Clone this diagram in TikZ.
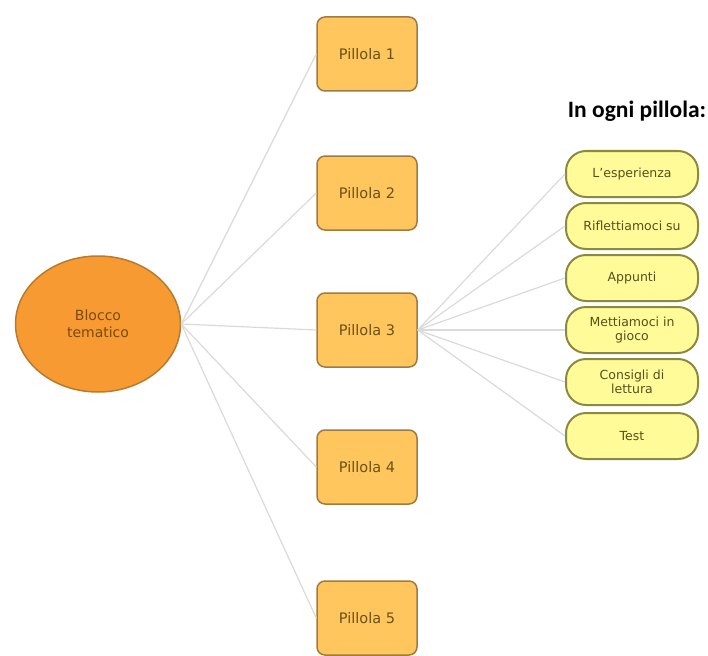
\documentclass[tikz,border=0pt]{standalone}
\usepackage{fontspec}
\setmainfont{DejaVu Sans}
\newfontfamily\headfont{Carlito}
\usetikzlibrary{shapes.geometric}
\definecolor{bloccofill}{HTML}{F79A32}
\definecolor{bloccoline}{HTML}{B87A2E}
\definecolor{bloccotext}{HTML}{7A4A14}
\definecolor{pillfill}{HTML}{FFC65E}
\definecolor{pillline}{HTML}{9C7C44}
\definecolor{pilltext}{HTML}{6A5218}
\definecolor{vocefill}{HTML}{FFFB99}
\definecolor{voceline}{HTML}{8C8A40}
\definecolor{vocetext}{HTML}{55501C}
\definecolor{ramoline}{HTML}{DADADA}

\begin{document}
\begin{tikzpicture}[x=1pt, y=-1pt,
    blocco/.style={ellipse, draw=bloccoline, line width=1.5pt, fill=bloccofill,
      minimum width=165pt, minimum height=136pt, inner sep=0pt, align=center,
      text=bloccotext, font=\fontsize{14}{17}\selectfont},
    pillola/.style={rectangle, rounded corners=8pt, draw=pillline, line width=1.5pt,
      fill=pillfill, minimum width=100pt, minimum height=74pt, inner sep=0pt,
      text=pilltext, font=\fontsize{14.5}{17}\selectfont},
    voce/.style={rectangle, rounded corners=20pt, draw=voceline, line width=2pt,
      fill=vocefill, minimum width=132pt, minimum height=46pt, inner sep=0pt,
      align=center, text=vocetext, font=\fontsize{12.5}{14}\selectfont},
    ramo/.style={draw=ramoline, line width=1.2pt}]
    \useasboundingbox (0,0) rectangle (708,655);

    \node[blocco] (blocco) at (98,324) {Blocco\\tematico};

    \node[pillola] (p1) at (367,54) {Pillola 1};
    \node[pillola] (p2) at (367,193) {Pillola 2};
    \node[pillola] (p3) at (367,330) {Pillola 3};
    \node[pillola] (p4) at (367,467) {Pillola 4};
    \node[pillola] (p5) at (367,618) {Pillola 5};

    \node[font=\headfont\bfseries\fontsize{23.5}{25}\selectfont, inner sep=0pt] (titolo) at (637,111) {In ogni pillola:};

    \node[voce] (v1) at (632,174) {L'esperienza};
    \node[voce] (v2) at (632,226) {Riflettiamoci su};
    \node[voce] (v3) at (632,278) {Appunti};
    \node[voce] (v4) at (632,330) {Mettiamoci in\\gioco};
    \node[voce] (v5) at (632,382) {Consigli di\\lettura};
    \node[voce] (v6) at (632,436) {Test};

    % rami dal blocco
    \draw[ramo] (blocco.east) -- (p1.west);
    \draw[ramo] (blocco.east) -- (p2.west);
    \draw[ramo] (blocco.east) -- (p3.west);
    \draw[ramo] (blocco.east) -- (p4.west);
    \draw[ramo] (blocco.east) -- (p5.west);

    % rami della pillola
    \draw[ramo] (p3.east) -- (v1.west);
    \draw[ramo] (p3.east) -- (v2.west);
    \draw[ramo] (p3.east) -- (v3.west);
    \draw[ramo] (p3.east) -- (v4.west);
    \draw[ramo] (p3.east) -- (v5.west);
    \draw[ramo] (p3.east) -- (v6.west);
\end{tikzpicture}
\end{document}
